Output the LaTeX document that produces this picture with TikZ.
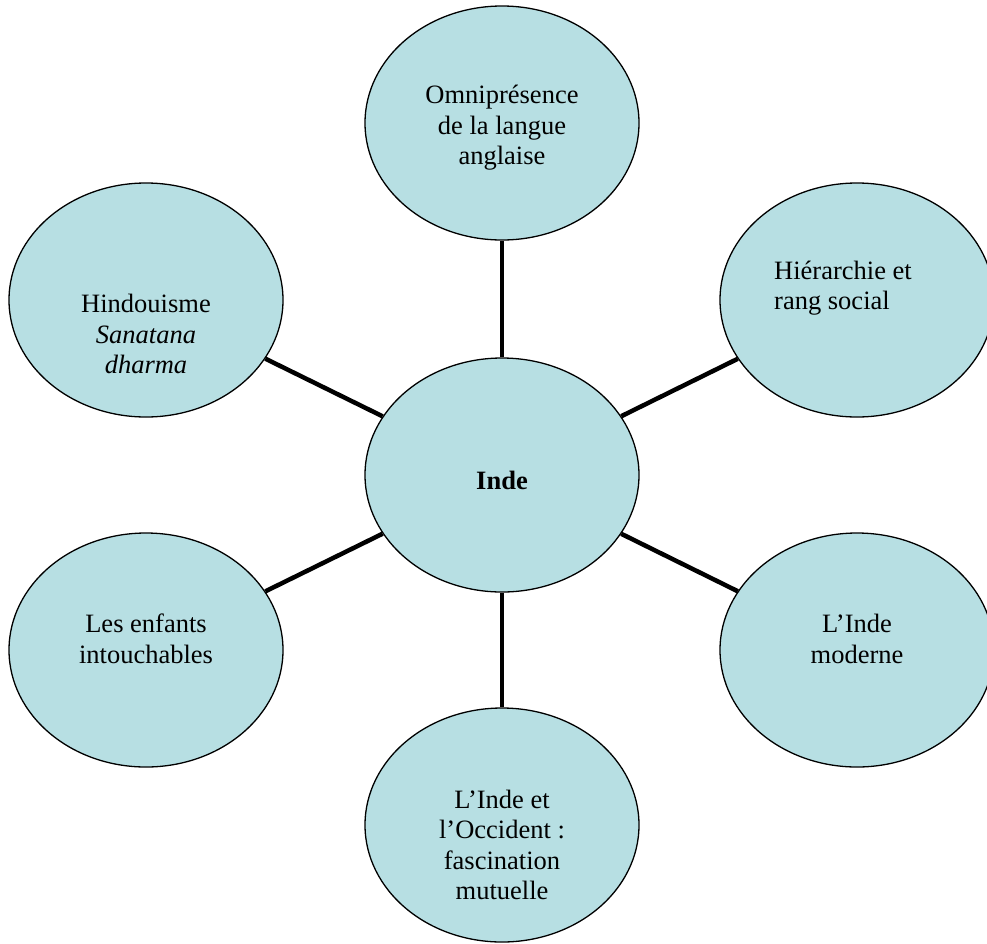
\documentclass[tikz,border=0pt]{standalone}
\usepackage{fontspec}
\setmainfont{Liberation Serif}[ItalicFont={Liberation Serif Italic},BoldFont={Liberation Serif Bold}]
\usetikzlibrary{shapes.geometric}
\definecolor{bub}{RGB}{183,223,227}
\begin{document}
\begin{tikzpicture}[x=1pt,y=-1pt,
  bubble/.style={ellipse,draw=black,line width=1.3pt,fill=bub,minimum width=274pt,minimum height=234pt,inner sep=0pt},
  conn/.style={line width=4.5pt,black},
  txt/.style={font=\fontsize{26.5}{30.5}\selectfont,align=center,inner sep=0pt}]
\useasboundingbox (0,0) rectangle (987,943);
\node[bubble] (inde) at (502,475) {};
\node[bubble] (top) at (502,123) {};
\node[bubble] (lt) at (146,300) {};
\node[bubble] (rt) at (857,300) {};
\node[bubble] (lb) at (146,650) {};
\node[bubble] (rb) at (857,650) {};
\node[bubble] (bot) at (502,825) {};
\foreach \n in {top,lt,rt,lb,rb,bot} \draw[conn] (inde) -- (\n);
\node[txt] (indet) at (502,480) {\textbf{Inde}};
\node[txt] (topt) at (502,128) {Omniprésence\\de la langue\\anglaise};
\node[txt] (ltt) at (146,334) {Hindouisme\\\textit{Sanatana}\\\textit{dharma}};
\node[txt,align=left,anchor=west] (rtt) at (774,288) {Hiérarchie et\\rang social};
\node[txt] (lbt) at (146,639) {Les enfants\\intouchables};
\node[txt] (rbt) at (857,639) {L’Inde\\moderne};
\node[txt] (bott) at (502,845) {L’Inde et\\l’Occident :\\fascination\\mutuelle};
\end{tikzpicture}
\end{document}
